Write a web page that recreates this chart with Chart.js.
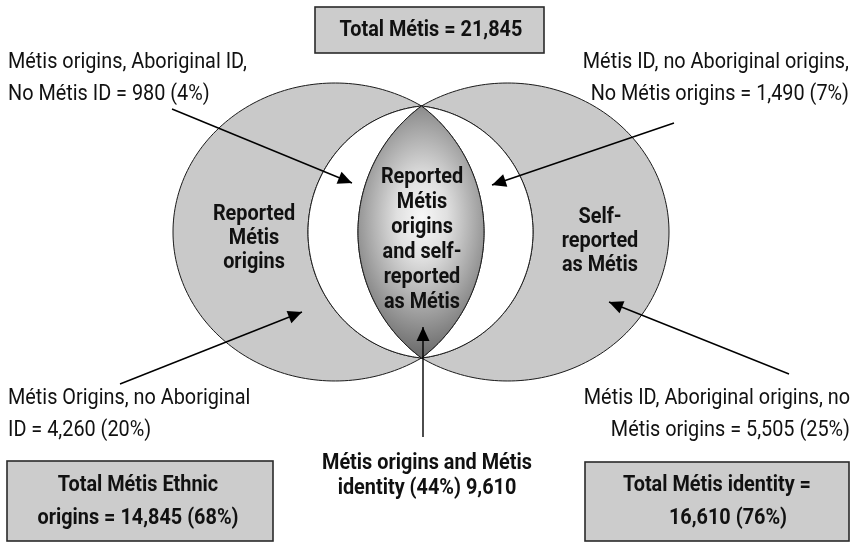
<!DOCTYPE html>
<html><head><meta charset="utf-8">
<script src="https://cdn.jsdelivr.net/npm/chart.js@4/dist/chart.umd.min.js"></script>
<style>html,body{margin:0;padding:0;background:#fff;overflow:hidden}canvas{display:block}</style>
</head><body>
<canvas id="c" width="854" height="544"></canvas>
<script>
// ---------------- data ----------------
const regionNames = [
  'Métis origins, Aboriginal ID, No Métis ID',
  'Métis ID, no Aboriginal origins, No Métis origins',
  'Métis Origins, no Aboriginal ID',
  'Métis ID, Aboriginal origins, no Métis origins',
  'Métis origins and Métis identity'
];
const regionCounts = [980, 1490, 4260, 5505, 9610];
const regionPercents = [4, 7, 20, 25, 44];
const totalNames = ['Total Métis', 'Total Métis Ethnic origins', 'Total Métis identity'];
const totalCounts = [21845, 14845, 16610];
const totalPercents = [100, 68, 76];
const setNames = ['Reported Métis origins', 'Self-reported as Métis', 'Reported Métis origins and self-reported as Métis'];

const fmt = n => n.toLocaleString('en-US');

// text lines built from the data
const regionLines = [
  ['Métis origins, Aboriginal ID,', `No Métis ID = ${fmt(regionCounts[0])} (${regionPercents[0]}%)`],
  ['Métis ID, no Aboriginal origins,', `No Métis origins = ${fmt(regionCounts[1])} (${regionPercents[1]}%)`],
  ['Métis Origins, no Aboriginal', `ID = ${fmt(regionCounts[2])} (${regionPercents[2]}%)`],
  ['Métis ID, Aboriginal origins, no', `Métis origins = ${fmt(regionCounts[3])} (${regionPercents[3]}%)`],
  ['Métis origins and Métis', `identity (${regionPercents[4]}%) ${fmt(regionCounts[4])}`]
];
const totalLines = [
  [`${totalNames[0]} = ${fmt(totalCounts[0])}`],
  ['Total Métis Ethnic', `origins = ${fmt(totalCounts[1])} (${totalPercents[1]}%)`],
  ['Total Métis identity =', `${fmt(totalCounts[2])} (${totalPercents[2]}%)`]
];
const setLines = [
  ['Reported', 'Métis', 'origins'],
  ['Self-', 'reported', 'as Métis'],
  ['Reported', 'Métis', 'origins', 'and self-', 'reported', 'as Métis']
];

// ---------------- layout (data-space units of the hidden axes) ----------------
const L = {
  T: {x: 421.5, y: 106}, B: {x: 421.5, y: 358}, cy: 232,
  outerTop: 83, outerLeft: 173, outerRight: 669,
  whiteLeft: 308, whiteRight: 533, lensLeft: 358, lensRight: 484,
  arrows: [
    [{x: 172, y: 109}, {x: 352, y: 183}],
    [{x: 674, y: 123}, {x: 492, y: 185}],
    [{x: 120, y: 384}, {x: 302, y: 312}],
    [{x: 789, y: 374}, {x: 609, y: 302}],
    [{x: 423, y: 437}, {x: 423, y: 327}]
  ],
  regionText: [
    {x: 8, y: [62, 94], align: 'left'},
    {x: 849, y: [62, 94], align: 'right'},
    {x: 8, y: [398, 430], align: 'left'},
    {x: 850, y: [398, 430], align: 'right'},
    {x: [427, 427], y: [463, 488], align: 'center', bold: true}
  ],
  boxes: [
    {x0: 315, y0: 7, x1: 544, y1: 53, tx: [431], ty: [30]},
    {x0: 7, y0: 461, x1: 273, y1: 541, tx: [138, 138], ty: [485, 518]},
    {x0: 585, y0: 462, x1: 849, y1: 541, tx: [717, 728], ty: [485, 518]}
  ],
  setText: [
    {x: 254, y: [214, 238, 262]},
    {x: 600, y: [217, 241, 265]},
    {x: 422, y: [177, 202, 227, 252, 277, 302]}
  ]
};

// condensed type: a regular face squeezed horizontally
const FONT = "Roboto,'Liberation Sans','DejaVu Sans',sans-serif";
const FS = 22;

function circleThrough(xS) {
  const xT = L.T.x, h = L.cy - L.T.y;
  const c = (xT * xT + h * h - xS * xS) / (2 * (xT - xS));
  const r = Math.abs(c - xS);
  return {cx: c, cy: L.cy, rx: r, ry: r, dir: xS < xT ? -1 : 1};
}
function outerEllipse(xExt) {
  const h = L.cy - L.T.y, ry = L.cy - L.outerTop;
  const k = Math.sqrt(1 - (h / ry) * (h / ry));
  const rx = Math.abs(L.T.x - xExt) / (1 + k);
  const cx = xExt < L.T.x ? xExt + rx : xExt - rx;
  return {cx, cy: L.cy, rx, ry, dir: xExt < L.T.x ? -1 : 1};
}
function arcTB(s, n = 160) {
  const t0 = Math.atan2((L.T.y - s.cy) / s.ry, (L.T.x - s.cx) / s.rx);
  let t1 = Math.atan2((L.B.y - s.cy) / s.ry, (L.B.x - s.cx) / s.rx);
  if (s.dir < 0) { while (t1 >= t0) t1 -= 2 * Math.PI; } else { while (t1 <= t0) t1 += 2 * Math.PI; }
  const pts = [];
  for (let i = 0; i <= n; i++) {
    const t = t0 + (t1 - t0) * i / n;
    pts.push({x: s.cx + s.rx * Math.cos(t), y: s.cy + s.ry * Math.sin(t)});
  }
  return pts;
}

const arcs = {
  outerL: arcTB(outerEllipse(L.outerLeft)),
  outerR: arcTB(outerEllipse(L.outerRight)),
  whiteL: arcTB(circleThrough(L.whiteLeft)),
  whiteR: arcTB(circleThrough(L.whiteRight)),
  lensL: arcTB(circleThrough(L.lensLeft)),
  lensR: arcTB(circleThrough(L.lensRight))
};

const vennPlugin = {
  id: 'venn',
  beforeDatasetsDraw(chart) {
    const ctx = chart.ctx, xs = chart.scales.x, ys = chart.scales.y;
    const P = p => [xs.getPixelForValue(p.x), ys.getPixelForValue(p.y)];
    const path = (a, b) => {
      ctx.beginPath();
      a.forEach((p, i) => { const q = P(p); i ? ctx.lineTo(q[0], q[1]) : ctx.moveTo(q[0], q[1]); });
      b.slice().reverse().forEach(p => { const q = P(p); ctx.lineTo(q[0], q[1]); });
      ctx.closePath();
    };
    ctx.save();
    ctx.lineWidth = 1;
    ctx.strokeStyle = '#1a1a1a';
    [[arcs.outerL, arcs.whiteL], [arcs.outerR, arcs.whiteR]].forEach(([a, b]) => {
      path(a, b); ctx.fillStyle = '#c9c9c9'; ctx.fill(); ctx.stroke();
    });
    [[arcs.whiteL, arcs.lensL], [arcs.whiteR, arcs.lensR]].forEach(([a, b]) => {
      path(a, b); ctx.fillStyle = '#ffffff'; ctx.fill(); ctx.stroke();
    });
    path(arcs.lensL, arcs.lensR);
    const c = P({x: 422, y: 218});
    ctx.save();
    ctx.translate(c[0], c[1]);
    ctx.scale(0.62, 1);
    const g = ctx.createRadialGradient(0, 0, 0, 0, 0, 135);
    g.addColorStop(0, '#f8f8f8');
    g.addColorStop(0.3, '#e0e0e0');
    g.addColorStop(0.65, '#a8a8a8');
    g.addColorStop(1, '#6e6e6e');
    ctx.fillStyle = g;
    ctx.fill();
    ctx.restore();
    ctx.stroke();
    L.boxes.forEach(b => {
      const p0 = P({x: b.x0, y: b.y0}), p1 = P({x: b.x1, y: b.y1});
      ctx.fillStyle = '#cccccc';
      ctx.fillRect(p0[0], p0[1], p1[0] - p0[0], p1[1] - p0[1]);
      ctx.lineWidth = 1.6; ctx.strokeStyle = '#2a2a2a';
      ctx.strokeRect(p0[0], p0[1], p1[0] - p0[0], p1[1] - p0[1]);
    });
    ctx.restore();
  },
  afterDatasetsDraw(chart) {
    const ctx = chart.ctx, xs = chart.scales.x, ys = chart.scales.y;
    const P = p => [xs.getPixelForValue(p.x), ys.getPixelForValue(p.y)];
    ctx.save();
    chart.data.datasets.forEach((ds, i) => {
      const m = chart.getDatasetMeta(i).data;
      const a = m[0], b = m[m.length - 1];
      const ang = Math.atan2(b.y - a.y, b.x - a.x), len = 14, hw = 6.5;
      const bx = b.x - len * Math.cos(ang), by = b.y - len * Math.sin(ang);
      ctx.beginPath();
      ctx.moveTo(b.x, b.y);
      ctx.lineTo(bx + hw * Math.sin(ang), by - hw * Math.cos(ang));
      ctx.lineTo(bx - hw * Math.sin(ang), by + hw * Math.cos(ang));
      ctx.closePath();
      ctx.fillStyle = '#000';
      ctx.fill();
    });
    ctx.textBaseline = 'middle';
    ctx.fillStyle = '#111';
    const regFont = FS + 'px ' + FONT, boldFont = 'bold ' + FS + 'px ' + FONT;
    ctx.font = regFont;
    const sxReg = 239 / ctx.measureText('Métis origins, Aboriginal ID,').width;
    ctx.font = boldFont;
    const sxBold = 210 / ctx.measureText('Métis origins and Métis').width;
    const put = (s, q, align, bold) => {
      ctx.font = bold ? boldFont : regFont;
      ctx.textAlign = align;
      ctx.save();
      ctx.translate(q[0], q[1]);
      ctx.scale(bold ? sxBold : sxReg, 1);
      ctx.fillText(s, 0, 0);
      ctx.restore();
    };
    regionLines.forEach((lines, i) => {
      const t = L.regionText[i];
      lines.forEach((s, j) => {
        const x = Array.isArray(t.x) ? t.x[j] : t.x;
        put(s, P({x, y: t.y[j]}), t.align, !!t.bold);
      });
    });
    totalLines.forEach((lines, i) => {
      const b = L.boxes[i];
      lines.forEach((s, j) => put(s, P({x: b.tx[j], y: b.ty[j]}), 'center', true));
    });
    setLines.forEach((lines, i) => {
      const t = L.setText[i];
      lines.forEach((s, j) => put(s, P({x: t.x, y: t.y[j]}), 'center', true));
    });
    ctx.restore();
  }
};

new Chart(document.getElementById('c'), {
  type: 'scatter',
  data: {
    datasets: L.arrows.map((seg, i) => ({
      label: regionNames[i],
      data: seg,
      showLine: true,
      borderColor: '#000',
      borderWidth: 1.4,
      pointRadius: 0,
      pointHoverRadius: 0,
      fill: false
    }))
  },
  options: {
    responsive: false,
    animation: false,
    events: [],
    layout: {padding: 0},
    plugins: {legend: {display: false}, tooltip: {enabled: false}, title: {display: false}},
    scales: {
      x: {type: 'linear', min: 0, max: 854, display: false},
      y: {type: 'linear', min: 0, max: 544, reverse: true, display: false}
    }
  },
  plugins: [vennPlugin]
});
</script>
</body></html>
